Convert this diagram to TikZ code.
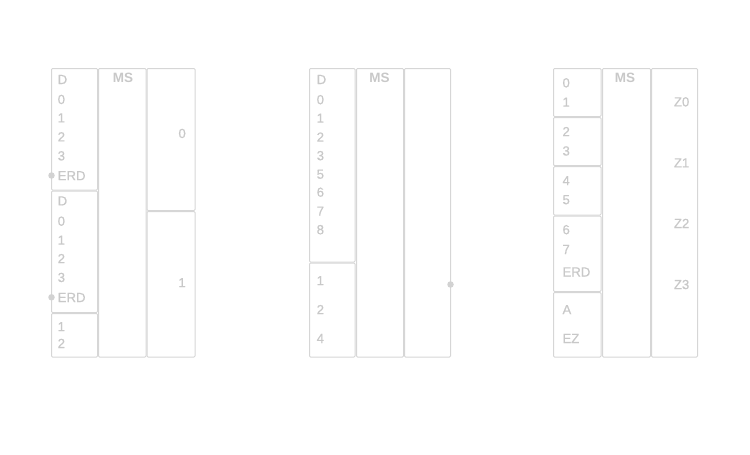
\documentclass[tikz,border=0pt]{standalone}
\usepackage{fontspec}
\setmainfont{Liberation Sans}
\newfontfamily\medfont{Liberation Sans}[FakeBold=0.6]
\definecolor{boxline}{HTML}{D6D6D6}
\definecolor{lbl}{HTML}{C8C8C8}
\definecolor{dotc}{HTML}{D2D2D2}
\begin{document}
\begin{tikzpicture}[x=1pt,y=-1pt,
  cell/.style={draw=boxline,line width=1pt,rounded corners=1pt},
  lab/.style={text=lbl,font=\medfont\fontsize{13.2}{15}\selectfont,inner sep=0pt,text height=9.4pt,text depth=0pt,anchor=west},
  rlab/.style={lab,anchor=east},
  mslab/.style={lab,anchor=center,font=\fontsize{13.5}{15}\selectfont\bfseries},
  pin/.style={circle,fill=dotc,inner sep=0pt,minimum size=6.5pt}]
\useasboundingbox (0,0) rectangle (750,455);
% ---------- group 1 ----------
\draw[cell] (51.5,68.5) rectangle (97.5,190);
\draw[cell] (51.5,191) rectangle (97.5,312.5);
\draw[cell] (51.5,313.5) rectangle (97.5,357);
\draw[cell] (98.5,68.5) rectangle (146,357);
\draw[cell] (147,68.5) rectangle (195,210.5);
\draw[cell] (147,211.5) rectangle (195,357);
\node[pin] (d1) at (51.5,175.5) {};
\node[pin] (d2) at (51.5,297.3) {};
\foreach \t/\y [count=\i] in {D/79.3,0/99.3,1/117.7,2/136.7,3/155.7,ERD/175.5,D/200.7,0/221,1/240,2/258.5,3/277.3,ERD/297.3,1/326.5,2/343.3}
  \node[lab] (ga\i) at (57.5,\y) {\t};
\node[mslab] (gams) at (123,77.3) {MS};
\node[rlab] (gar0) at (186,133.3) {0};
\node[rlab] (gar1) at (186,282.5) {1};
% ---------- group 2 ----------
\draw[cell] (309.5,68.5) rectangle (355,262);
\draw[cell] (309.5,263) rectangle (355,357);
\draw[cell] (356.5,68.5) rectangle (403.5,357);
\draw[cell] (404.5,68.5) rectangle (450.5,357);
\node[pin] (d3) at (450.5,284.5) {};
\foreach \t/\y [count=\i] in {D/79.3,0/99.5,1/118,2/137,3/155.5,5/174,6/192,7/211,8/229.5,1/280.5,2/309.5,4/338.3}
  \node[lab] (gb\i) at (316.5,\y) {\t};
\node[mslab] (gbms) at (379.5,78) {MS};
% ---------- group 3 ----------
\draw[cell] (553.5,68.5) rectangle (601,116.5);
\draw[cell] (553.5,117.5) rectangle (601,165.7);
\draw[cell] (553.5,166.7) rectangle (601,215);
\draw[cell] (553.5,216) rectangle (601,291.5);
\draw[cell] (553.5,292.5) rectangle (601,357);
\draw[cell] (602.5,68.5) rectangle (650.5,357);
\draw[cell] (651.5,68.5) rectangle (697.5,357);
\foreach \t/\y [count=\i] in {0/82.7,1/102,2/131.5,3/150.8,4/180.5,5/199.5,6/229.5,7/249.3,ERD/271.8,A/309.5,EZ/338.3}
  \node[lab] (gc\i) at (562.3,\y) {\t};
\node[mslab] (gcms) at (625,78) {MS};
\foreach \t/\y [count=\i] in {Z0/101.7,Z1/162.7,Z2/223.3,Z3/284.4}
  \node[rlab] (gcz\i) at (689.5,\y) {\t};
\end{tikzpicture}
\end{document}
